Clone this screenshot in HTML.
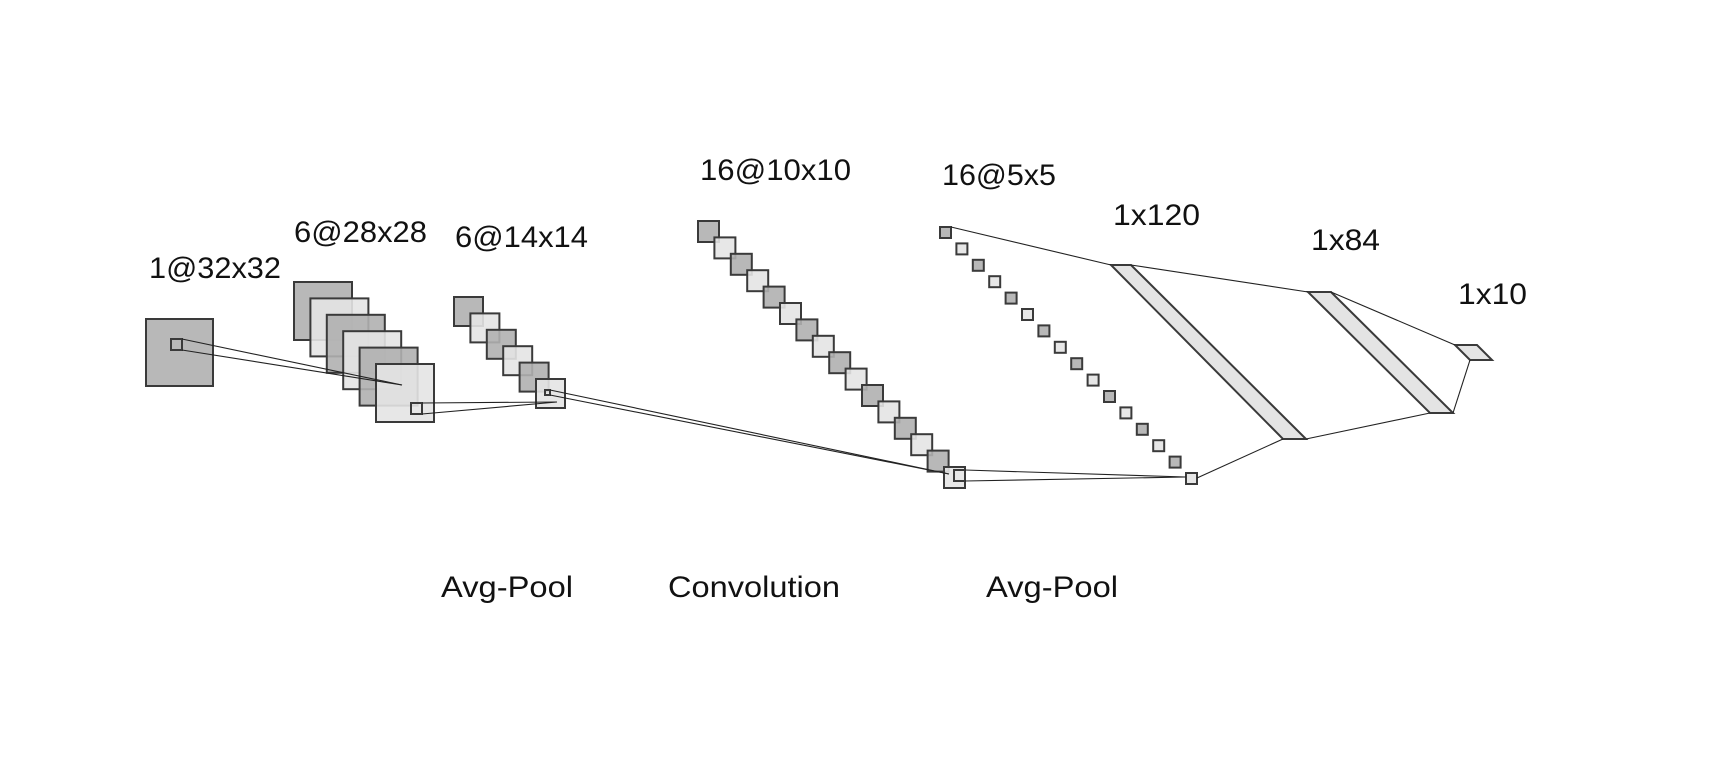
<!DOCTYPE html>
<html><head><meta charset="utf-8"><title>LeNet architecture</title>
<style>html,body{margin:0;padding:0;background:#fff;}svg{display:block;}text{font-family:"Liberation Sans",sans-serif;font-size:30px;fill:#111;}</style>
</head><body>
<svg id="chart" width="1714" height="780" viewBox="0 0 1714 780" xmlns="http://www.w3.org/2000/svg"></svg>
<script>
const layerLabels = ["1@32x32","6@28x28","6@14x14","16@10x10","16@5x5","1x120","1x84","1x10"];
const layerCounts = [1,6,6,16,16];
const opLabels = ["Avg-Pool","Convolution","Avg-Pool"];

const NS="http://www.w3.org/2000/svg";
const svg=document.getElementById('chart');
function mk(tag,attrs,parent){const e=document.createElementNS(NS,tag);for(const k in attrs)e.setAttribute(k,attrs[k]);(parent||svg).appendChild(e);return e;}
const DARK="#b0b0b0", LIGHT="#e4e4e4", STROKE="#3a3a3a";

const geo=[
 {x:146,y:319,s:67,dx:0,dy:0},
 {x:294,y:282,s:58,dx:16.4,dy:16.4},
 {x:454,y:297,s:29,dx:16.4,dy:16.4},
 {x:698,y:221,s:21,dx:16.4,dy:16.4},
 {x:940,y:227,s:11,dx:16.4,dy:16.4}
];
layerCounts.forEach((n,li)=>{
  const g=geo[li];
  for(let i=0;i<n;i++){
    const r=mk('rect',{x:g.x+i*g.dx,y:g.y+i*g.dy,width:g.s,height:g.s,fill:(li===0||i%2===0)?DARK:LIGHT,'fill-opacity':0.9,stroke:STROKE,'stroke-width':2});
    
    
  }
});
const kern=[[171,339,11],[411,403,11],[545,390,5],[954,470,11]];
kern.forEach((k,i)=>{
  const r=mk('rect',{x:k[0],y:k[1],width:k[2],height:k[2],fill:'none',stroke:STROKE,'stroke-width':2});
  
  
});
const fc=[[1111,1131,265,1283,1306,439],[1308,1331,292,1430,1453,413],[1455,1477,345,1470,1492,360]];
fc.forEach((p,i)=>{
  const e=mk('polygon',{points:`${p[0]},${p[2]} ${p[1]},${p[2]} ${p[4]},${p[5]} ${p[3]},${p[5]}`,fill:LIGHT,stroke:STROKE,'stroke-width':2});
  
  
});
const lines=[
 [182,339,402,385],[182,350,402,385],
 [422,403,557,402],[422,414,557,402],
 [550,390,949,474],[550,395,949,474],
 [965,470,1186,477],[965,481,1186,477],
 [951,227,1111,265],[1197,478,1283,439],
 [1131,265,1308,292],[1306,439,1430,413],
 [1331,292,1455,345],[1453,413,1470,360]
];
lines.forEach((l,i)=>{
  const e=mk('line',{x1:l[0],y1:l[1],x2:l[2],y2:l[3],stroke:'#222','stroke-width':1.1});
  
  
});
const labelPos=[[149,278,132],[294,242,133],[455,247,133],[700,180,151],[942,185,114],[1113,225,87],[1311,250,69],[1458,304,69]];
layerLabels.forEach((t,i)=>{
  const e=mk('text',{x:labelPos[i][0],y:labelPos[i][1],textLength:labelPos[i][2],lengthAdjust:'spacingAndGlyphs'});
  e.textContent=t;
  
  
});
const opPos=[[441,132],[668,172],[986,132]];
opLabels.forEach((t,i)=>{
  const e=mk('text',{x:opPos[i][0],y:597,textLength:opPos[i][1],lengthAdjust:'spacingAndGlyphs'});
  e.textContent=t;
  
  
});
</script>
</body></html>
